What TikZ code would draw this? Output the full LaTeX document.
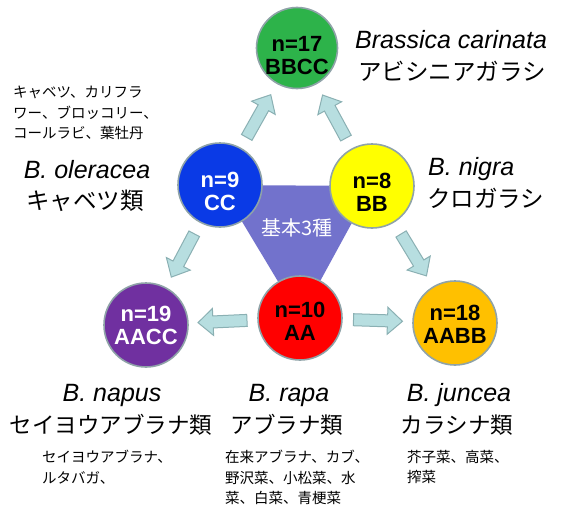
\documentclass[tikz,border=0pt]{standalone}
\usepackage{fontspec}
\setmainfont{Liberation Sans}
\newfontfamily\jp{Noto Sans CJK JP}
\usetikzlibrary{calc}
\definecolor{cgreen}{HTML}{2DB34A}
\definecolor{cblue}{HTML}{0A3AE6}
\definecolor{cyellow}{HTML}{FFFF00}
\definecolor{cpurple}{HTML}{7030A0}
\definecolor{cred}{HTML}{FF0000}
\definecolor{corange}{HTML}{FFC000}
\definecolor{cborder}{HTML}{8FA3A8}
\definecolor{ctri}{HTML}{7272CC}
\definecolor{afill}{HTML}{B7DEE0}
\definecolor{adraw}{HTML}{8AB0B3}
% block arrow between two named nodes, centred between them
\newcommand\blockarr[2]{%
  \draw[arrowsty] let \p1=(#1.center), \p2=(#2.center),
      \n1={atan2(\y2-\y1,\x2-\x1)}, \p3=($(\p1)!0.5!(\p2)$) in
    ($(\p3)+(\n1:25pt)$)
 -- ($(\p3)+(\n1:10pt)+(\n1+90:13.5pt)$)
 -- ($(\p3)+(\n1:10pt)+(\n1+90:6pt)$)
 -- ($(\p3)+(\n1:-24pt)+(\n1+90:6pt)$)
 -- ($(\p3)+(\n1:-24pt)+(\n1-90:6pt)$)
 -- ($(\p3)+(\n1:10pt)+(\n1-90:6pt)$)
 -- ($(\p3)+(\n1:10pt)+(\n1-90:13.5pt)$)
 -- cycle;}
\begin{document}
\begin{tikzpicture}[x=1pt,y=-1pt,
  circ/.style={circle, draw=cborder, line width=1.6pt, minimum size=84pt, inner sep=0pt},
  ctext/.style={font=\fontsize{22}{23}\selectfont\bfseries, align=center, inner sep=0pt},
  arrowsty/.style={draw=adraw, fill=afill, line width=1pt, line join=miter},
  latin/.style={font=\fontsize{25}{27}\selectfont\itshape, inner sep=0pt},
  jpbig/.style={font=\jp\fontsize{23.5}{26}\selectfont, inner sep=0pt},
  jpbot/.style={font=\jp\fontsize{22.5}{26}\selectfont, inner sep=0pt},
  small/.style={font=\jp\fontsize{14.5}{20.5}\selectfont, inner sep=0pt, align=left, anchor=north west}]
\useasboundingbox (0,0) rectangle (568,506);
\fill[white] (0,0) rectangle (568,506);
% positions
\coordinate (pG) at (297,48);
\coordinate (pC) at (220,185);
\coordinate (pB) at (372,186);
\coordinate (pP) at (146,325);
\coordinate (pA) at (300,318);
\coordinate (pO) at (455,323);
% central triangle
\fill[ctri] (pC) -- (pB) -- (pA) -- cycle;
% circles
\node[circ, fill=cgreen, minimum size=81pt] (green) at (pG) {};
\node[circ, fill=cblue] (blue) at (pC) {};
\node[circ, fill=cyellow] (yellow) at (pB) {};
\node[circ, fill=cpurple] (purple) at (pP) {};
\node[circ, fill=cred] (red) at (pA) {};
\node[circ, fill=corange] (orange) at (pO) {};
\node[ctext, text=black] (greenT) at ($(green)+(0,8)$) {n=17\\BBCC};
\node[ctext, text=white] (blueT) at ($(blue)+(0,6)$) {n=9\\CC};
\node[ctext, text=black] (yellowT) at ($(yellow)+(0,6)$) {n=8\\BB};
\node[ctext, text=white] (purpleT) at ($(purple)+(0,0)$) {n=19\\AACC};
\node[ctext, text=black] (redT) at ($(red)+(0,3)$) {n=10\\AA};
\node[ctext, text=black] (orangeT) at ($(orange)+(0,1)$) {n=18\\AABB};
\node[font=\jp\fontsize{20}{22}\selectfont, text=white, inner sep=0pt] (base3) at (297,228) {基本3種};
% arrows
\blockarr{blue}{green}
\blockarr{yellow}{green}
\blockarr{blue}{purple}
\blockarr{yellow}{orange}
\blockarr{red}{purple}
\blockarr{red}{orange}
% labels
\node[latin, anchor=base west] (carL) at (355,48) {Brassica carinata};
\node[jpbig, anchor=west] (carJ) at (358,71) {アビシニアガラシ};
\node[small] (oleS) at (13,86) {キャベツ、カリフラ\\ワー、ブロッコリー、\\コールラビ、葉牡丹};
\node[latin, anchor=base] (oleL) at (87,178) {B. oleracea};
\node[jpbig] (oleJ) at (85,201) {キャベツ類};
\node[latin, anchor=base west] (nigL) at (428,175) {B. nigra};
\node[jpbig, anchor=west] (nigJ) at (427,198) {クロガラシ};
\node[latin, anchor=base] (napL) at (112,401) {B. napus};
\node[jpbot] (napJ) at (111,425) {セイヨウアブラナ類};
\node[latin, anchor=base] (rapL) at (289,401) {B. rapa};
\node[jpbot] (rapJ) at (287,425) {アブラナ類};
\node[latin, anchor=base] (junL) at (459,401) {B. juncea};
\node[jpbot] (junJ) at (457,425) {カラシナ類};
\node[small] (napS) at (42,450) {セイヨウアブラナ、\\ルタバガ、};
\node[small] (rapS) at (225,450) {在来アブラナ、カブ、\\野沢菜、小松菜、水\\菜、白菜、青梗菜};
\node[small] (junS) at (407,450) {芥子菜、高菜、\\搾菜};
\end{tikzpicture}
\end{document}
